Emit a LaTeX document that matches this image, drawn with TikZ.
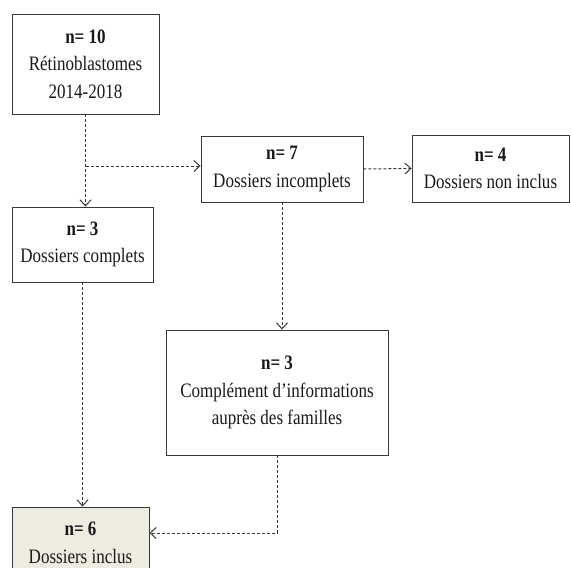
\documentclass[tikz,border=0pt]{standalone}
\usepackage{fontspec}
\setmainfont{Liberation Serif}[FakeStretch=0.83]
\usetikzlibrary{arrows.meta,calc}
\definecolor{linec}{HTML}{383838}
\definecolor{boxfill}{HTML}{EEEBE1}
\begin{document}
\begin{tikzpicture}[x=1pt,y=-1pt,
  box/.style={draw=linec, line width=0.9pt, inner sep=0pt, align=center,
    font=\fontsize{20.5}{27.5}\selectfont, text=black!90},
  conn/.style={draw=linec, line width=1pt, dash pattern=on 3pt off 2pt,
    -{Straight Barb[length=6pt,width=11pt]}}]
\useasboundingbox (0,0) rectangle (571,568);
\node[box, minimum width=147pt, minimum height=100pt] (b1) at (85.5,64)
  {{\bfseries n= 10}\\Rétinoblastomes\\2014-2018};
\node[box, minimum width=162pt, minimum height=66pt] (b2) at (282,169)
  {{\bfseries n= 7}\\Dossiers incomplets};
\node[box, minimum width=157pt, minimum height=67pt] (b3) at (490.5,168.5)
  {{\bfseries n= 4}\\Dossiers non inclus};
\node[box, minimum width=141pt, minimum height=75pt] (b4) at (82.5,244.5)
  {{\bfseries n= 3}\\ Dossiers complets};
\node[box, minimum width=222pt, minimum height=125pt] (b5) at (277,392.5)
  {{\bfseries n= 3}\\Complément d’informations\\auprès des familles};
\node[box, fill=boxfill, minimum width=137pt, minimum height=72pt] (b6) at (80.5,543)
  {{\bfseries n= 6}\\Dossiers inclus};
\coordinate (split) at ($(b1.south |- b2.west)+(0,-3)$);
\coordinate (inend) at ($(b6.east)+(0,-10)$);
\draw[conn] (b1.south) -- (b1.south |- b4.north);
\draw[conn] (split) -- (split -| b2.west);
\draw[conn] (b2.east) -- (b3.west);
\draw[conn] (b2.south) -- (b2.south |- b5.north);
\draw[conn] (b4.south) -- (b4.south |- b6.north);
\draw[conn] (b5.south) |- (inend);
\end{tikzpicture}
\end{document}
